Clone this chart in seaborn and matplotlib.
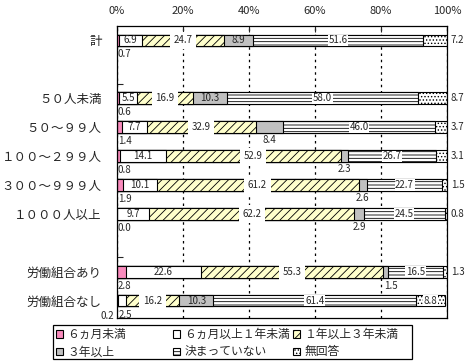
import pandas as pd
import matplotlib
matplotlib.use("Agg")
import matplotlib.pyplot as plt
import seaborn as sns
from matplotlib.patches import Patch, Rectangle

# -------------------------
# Данные
# -------------------------
categories = ["計", " ", "５０人未満", "５０～９９人", "１００～２９９人",
              "３００～９９９人", "１０００人以上", "  ", "労働組合あり", "労働組合なし"]

segments = ["６ヵ月未満", "６ヵ月以上１年未満", "１年以上３年未満",
            "３年以上", "決まっていない", "無回答"]

values = {
    "計":             [0.7, 6.9, 24.7, 8.9, 51.6, 7.2],
    "５０人未満":       [0.6, 5.5, 16.9, 10.3, 58.0, 8.7],
    "５０～９９人":     [1.4, 7.7, 32.9, 8.4, 46.0, 3.7],
    "１００～２９９人": [0.8, 14.1, 52.9, 2.3, 26.7, 3.1],
    "３００～９９９人": [1.9, 10.1, 61.2, 2.6, 22.7, 1.5],
    "１０００人以上":   [0.0, 9.7, 62.2, 2.9, 24.5, 0.8],
    "労働組合あり":     [2.8, 22.6, 55.3, 1.5, 16.5, 1.3],
    "労働組合なし":     [0.2, 2.5, 16.2, 10.3, 61.4, 8.8],
}

# где ставить подпись: in / gap / box / below / below_l / below_r / out
label_pos = {
    "計":             ["below_l", "in", "gap", "in", "box", "out"],
    "５０人未満":       ["below_l", "in", "gap", "in", "box", "out"],
    "５０～９９人":     ["below_l", "in", "gap", "below", "box", "out"],
    "１００～２９９人": ["below_l", "in", "gap", "below", "box", "out"],
    "３００～９９９人": ["below_l", "in", "gap", "below", "box", "out"],
    "１０００人以上":   ["below_l", "in", "gap", "below", "box", "out"],
    "労働組合あり":     ["below_l", "in", "gap", "below_l", "box", "out"],
    "労働組合なし":     ["below_r", "below_l", "gap", "in", "box", "box"],
}

colors = ["#f98bbd", "white", "#ffffcc", "#c0c0c0", "white", "white"]
hatches = [None, None, "////", None, "-----", "....."]

rows = []
for cat, vals in values.items():
    cum = 0
    for seg, v in zip(segments, vals):
        rows.append({"category": cat, "segment": seg, "value": v,
                     "start": cum, "end": cum + v})
        cum += v
df = pd.DataFrame(rows)

# -------------------------
# Фигура
# -------------------------
sns.set_style("white")
plt.rcParams["font.family"] = ["Noto Sans CJK JP", "DejaVu Sans"]
plt.rcParams["hatch.linewidth"] = 0.6

fig = plt.figure(figsize=(4.68, 3.61), dpi=100)
ax = fig.add_axes([0.25, 0.119, 0.705, 0.809])

# накопленные столбцы, от самого длинного к самому короткому
for i in range(len(segments) - 1, -1, -1):
    sub = df[df["segment"] == segments[i]]
    sns.barplot(
        data=sub, x="end", y="category", order=categories, orient="h",
        color=colors[i], saturation=1, hatch=hatches[i],
        edgecolor="black", linewidth=0.8, width=0.4,
        errorbar=None, ax=ax
    )

# подписи
pos_of = {c: k for k, c in enumerate(categories)}
for _, r in df.iterrows():
    y = pos_of[r["category"]]
    j = segments.index(r["segment"])
    mode = label_pos[r["category"]][j]
    txt = f"{r['value']:.1f}"
    mid = (r["start"] + r["end"]) / 2
    kw = dict(fontsize=7, va="center", zorder=6)
    if mode == "in":
        ax.text(mid, y, txt, ha="center", **kw)
    elif mode == "gap":
        ax.text(mid, y, txt, ha="center",
                bbox=dict(facecolor="white", edgecolor="none", pad=2.6), **kw)
    elif mode == "box":
        ax.text(mid, y, txt, ha="center",
                bbox=dict(facecolor="white", edgecolor="none", pad=0.4), **kw)
    elif mode == "below":
        ax.text(mid, y + 0.45, txt, ha="center", **kw)
    elif mode == "below_l":
        ax.text(r["start"] + 0.2, y + 0.48, txt, ha="left", **kw)
    elif mode == "below_r":
        ax.text(r["start"] - 1.0, y + 0.52, txt, ha="right", **kw)
    elif mode == "out":
        ax.text(101.2, y, txt, ha="left", clip_on=False, **kw)

# оси
ax.set_xlim(0, 100)
ax.set_ylim(9.6, -0.5)
ax.set_xlabel("")
ax.set_ylabel("")

ax.xaxis.tick_top()
ax.set_xticks(range(0, 101, 20))
ax.set_xticklabels([f"{t}%" for t in range(0, 101, 20)])
ax.tick_params(axis="x", direction="in", length=4, width=0.8, pad=7,
               labelsize=8, top=True, bottom=False)
ax.tick_params(axis="y", length=0, pad=11, labelsize=9)
ax.set_yticks([1.5, 7.5], minor=True)
ax.tick_params(axis="y", which="minor", direction="in", length=4, width=0.8, left=True)

ax.set_axisbelow(True)
ax.grid(True, axis="x", color="black", linestyle=(0, (2, 3)), linewidth=0.9)
ax.grid(False, axis="y")
for s in ax.spines.values():
    s.set_visible(True)
    s.set_color("black")
    s.set_linewidth(0.9)

# легенда: три колонки одинаковой ширины + общая рамка
handles = [Patch(facecolor=colors[i], edgecolor="black", hatch=hatches[i],
                 linewidth=0.8, label=segments[i]) for i in range(len(segments))]
columns = [[0, 3], [1, 4], [2, 5]]
col_x = [56, 173, 293]
for xs, col in zip(col_x, columns):
    fig.legend(
        [handles[i] for i in col], [segments[i] for i in col],
        loc="upper left", bbox_to_anchor=(xs / 468, 1 - 328 / 361),
        frameon=False, borderpad=0, borderaxespad=0, fontsize=8.5,
        handlelength=0.6, handleheight=0.6, handletextpad=0.35,
        labelspacing=0.38
    )
fig.patches.append(Rectangle((53 / 468, 1 - 359 / 361), 359 / 468, 34 / 361,
                             transform=fig.transFigure, fill=False,
                             edgecolor="black", linewidth=0.9))

fig.savefig("out.png", dpi=100)
